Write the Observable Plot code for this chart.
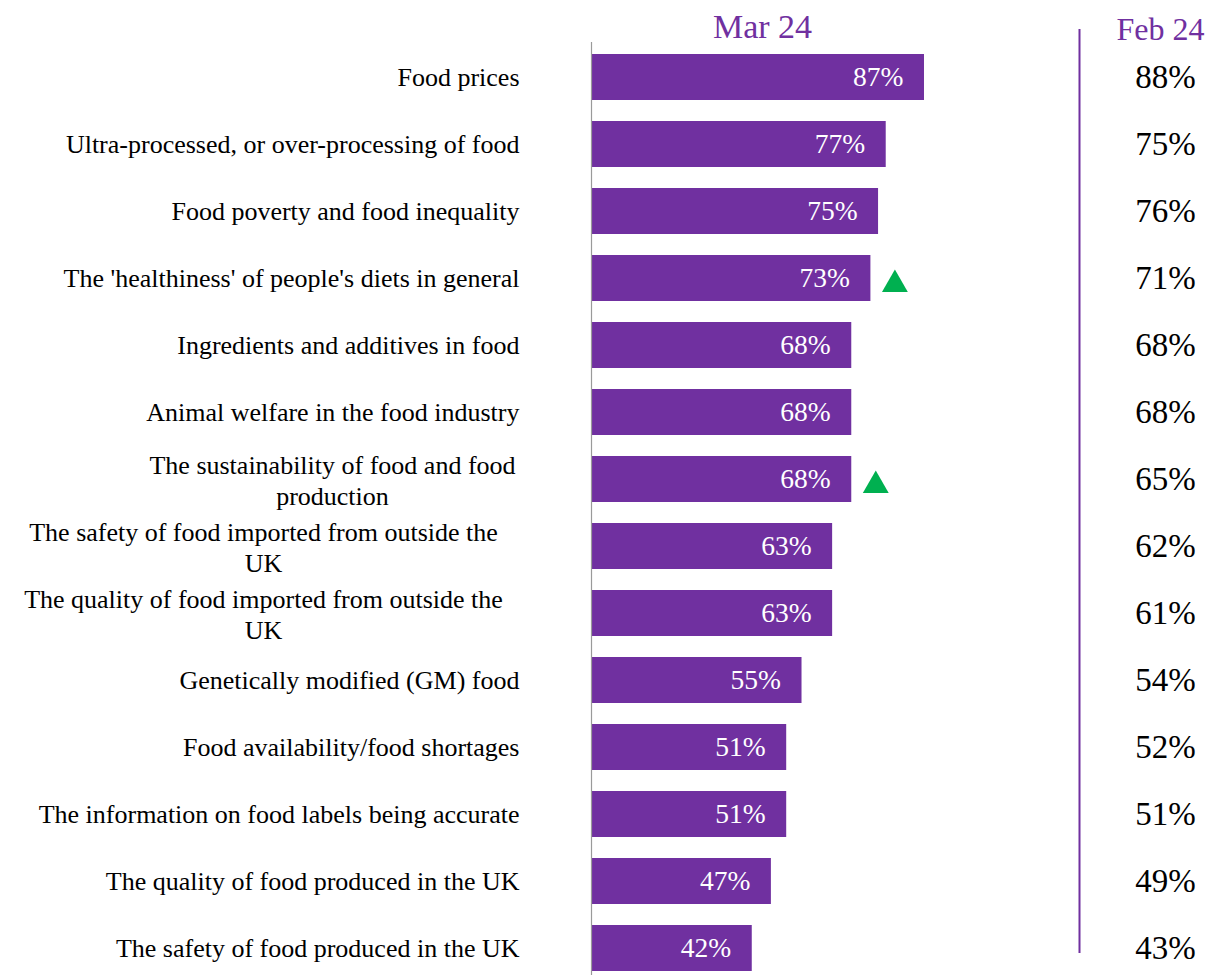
<!DOCTYPE html>
<html>
<head>
<meta charset="utf-8">
<script src="https://cdn.jsdelivr.net/npm/d3@7"></script>
<script src="https://cdn.jsdelivr.net/npm/@observablehq/plot@0.6"></script>
<style>
  html, body { margin: 0; padding: 0; background: #fff; }
  #chart svg { display: block; }
</style>
</head>
<body>
<div id="chart"></div>
<script>
// ---- data ----
const categories = [
  "Food prices",
  "Ultra-processed, or over-processing of food",
  "Food poverty and food inequality",
  "The 'healthiness' of people's diets in general",
  "Ingredients and additives in food",
  "Animal welfare in the food industry",
  "The sustainability of food and food\nproduction",
  "The safety of food imported from outside the\nUK",
  "The quality of food imported from outside the\nUK",
  "Genetically modified (GM) food",
  "Food availability/food shortages",
  "The information on food labels being accurate",
  "The quality of food produced in the UK",
  "The safety of food produced in the UK"
];
const mar24 = [87, 77, 75, 73, 68, 68, 68, 63, 63, 55, 51, 51, 47, 42];
const feb24 = [88, 75, 76, 71, 68, 68, 65, 62, 61, 54, 52, 51, 49, 43];
const significantRise = [
  "The 'healthiness' of people's diets in general",
  "The sustainability of food and food\nproduction"
];
const headerCurrent = "Mar 24";
const headerPrevious = "Feb 24";

// ---- table ----
const rows = categories.map((label, i) => ({label, mar: mar24[i], feb: feb24[i]}));
const rises = rows.filter(d => significantRise.includes(d.label));
const singleLine = rows.filter(d => !d.label.includes("\n"));
const sustain = rows.filter(d => d.label.startsWith("The sustainability"));
const imported = rows.filter(d => d.label.includes("imported"));

const purple = "#7030a0";
const serif = "'Liberation Serif', 'Times New Roman', serif";
const xMax = 127.5;

const chart = Plot.plot({
  width: 1218,
  height: 975,
  marginLeft: 591,
  marginRight: 139,
  marginTop: 53,
  marginBottom: 4,
  style: {fontFamily: serif, background: "#fff", overflow: "visible"},
  x: {domain: [0, xMax], axis: null},
  y: {domain: categories, paddingInner: 0.314, paddingOuter: 0, axis: null},
  marks: [
    Plot.barX(rows, {x: "mar", y: "label", fill: purple}),
    Plot.ruleX([0], {stroke: "#9a9a9a", strokeWidth: 1.2, insetTop: -11, insetBottom: -4}),
    Plot.ruleX([xMax], {stroke: purple, strokeWidth: 2, insetTop: -24, insetBottom: 18}),
    Plot.text(rows, {x: "mar", y: "label", text: d => d.mar + "%", textAnchor: "end", dx: -21,
      fill: "white", fontSize: 27.5}),
    Plot.dot(rises, {x: "mar", y: "label", symbol: "triangle", r: 9.6, fill: "#00b050", stroke: null,
      dx: 24, dy: 6}),
    Plot.text(singleLine, {y: "label", text: "label", frameAnchor: "left", textAnchor: "end", dx: -72,
      fill: "#000", fontSize: 26}),
    Plot.text(sustain, {y: "label", text: "label", frameAnchor: "left", textAnchor: "middle", dx: -259,
      fill: "#000", fontSize: 26, lineHeight: 1.2}),
    Plot.text(imported, {y: "label", text: "label", frameAnchor: "left", textAnchor: "middle", dx: -328,
      fill: "#000", fontSize: 26, lineHeight: 1.2}),
    Plot.text(rows, {y: "label", text: d => d.feb + "%", frameAnchor: "right", textAnchor: "middle", dx: 86,
      fill: "#000", fontSize: 33}),
    Plot.text([headerCurrent], {frameAnchor: "top-left", textAnchor: "middle", dx: 171, dy: -40,
      fill: purple, fontSize: 34}),
    Plot.text([headerPrevious], {frameAnchor: "top-right", textAnchor: "middle", dx: 81, dy: -36,
      fill: purple, fontSize: 32})
  ]
});
document.getElementById("chart").append(chart);
</script>
</body>
</html>
